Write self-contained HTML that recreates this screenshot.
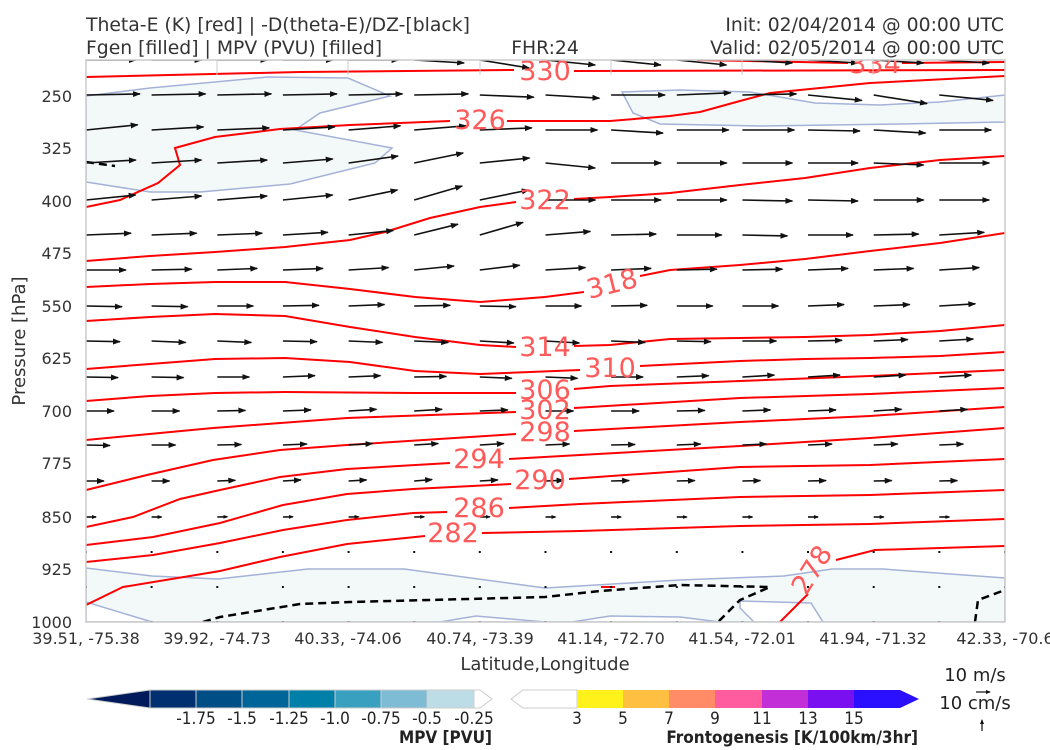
<!DOCTYPE html>
<html><head><meta charset="utf-8"><style>
html,body{margin:0;padding:0;background:#fff;}
svg{display:block;font-family:"DejaVu Sans","Liberation Sans",sans-serif;}
</style></head><body>
<svg id="s" width="1050" height="750" viewBox="0 0 1050 750" xmlns="http://www.w3.org/2000/svg">
<defs>
<marker id="ah" markerWidth="8" markerHeight="6" refX="7" refY="3" orient="auto" markerUnits="userSpaceOnUse"><path d="M0,0 L8,3 L0,6 z" fill="#111"/></marker>
<marker id="as" markerWidth="5" markerHeight="4" refX="4" refY="2" orient="auto" markerUnits="userSpaceOnUse"><path d="M0,0 L5,2 L0,4 z" fill="#111"/></marker>
<clipPath id="cp"><rect x="86" y="60" width="919" height="562"/></clipPath>
</defs>
<g fill="#333" font-size="18.8">
<text x="86" y="31">Theta-E (K) [red] | -D(theta-E)/DZ-[black]</text>
<text x="86" y="54">Fgen [filled] | MPV (PVU) [filled]</text>
<text x="545" y="54" text-anchor="middle">FHR:24</text>
<text x="1004" y="31" text-anchor="end">Init: 02/04/2014 @ 00:00 UTC</text>
<text x="1004" y="54" text-anchor="end">Valid: 02/05/2014 @ 00:00 UTC</text>
</g>
<g clip-path="url(#cp)">
<g fill="#f3f9f9" stroke="#a4b2d8" stroke-width="1.5">
<polygon points="86,96 150,88 268,77 348,78 390,96 320,113 295,130 392,148 375,163 290,184 200,192 150,192 86,182"/>
<polygon points="622,92 680,90 750,92 815,103 880,105 940,102 1005,95 1005,122 900,124 760,126 660,124 633,113"/>
<polygon points="86,568 152,576 218,579 308,569 404,569 545,588 680,580 784,576 832,569 883,569 1005,578 1005,622 86,622"/>
</g>
<g fill="#fff" stroke="#a4b2d8" stroke-width="1.5">
<polygon points="86,602 152,622 86,622"/>
<polygon points="440,622 476,616 545,622"/>
<polygon points="572,622 610,616 680,617 720,622"/>
<polygon points="740,601 811,603 823,622 754,622 740,608"/>
</g>
<g fill="none" stroke="#000" stroke-width="2.5" stroke-dasharray="8,5">
<polyline points="203,622 220,617 300,604 350,602 545,597 600,591 680,585 770,587 740,600 718,622"/>
<polyline points="975,622 978,600 1005,590"/>
<polyline points="86,162 115,166"/>
</g>
<g fill="none" stroke="#ff0000" stroke-width="2">
<polyline points="697,60 848,63"/><polyline points="902,63 1005,62"/>
<polyline points="86,77 300,72 514,70"/><polyline points="574,71 1005,70"/>
<polyline points="86,207 120,200 158,183 180,165 175,148 215,137 280,129 350,125 450,121"/>
<polyline points="507,121 610,121 670,116 700,112 740,101 770,93 870,83 1005,76"/>
<polyline points="86,261 150,256 215,252 285,247 350,240 385,232 430,218 480,207 516,202"/>
<polyline points="574,199 610,197 670,193 740,185 805,178 870,168 940,160 1005,156"/>
<polyline points="86,287 150,284 215,282 285,282 350,289 415,297 480,302 545,297 584,292"/>
<polyline points="640,276 670,270 740,265 805,259 870,251 940,243 1005,233"/>
<polyline points="86,321 150,317 215,314 285,316 350,327 415,337 480,345 516,347"/>
<polyline points="574,346 610,345 670,339 740,338 805,337 870,335 940,331 1005,325"/>
<polyline points="86,369 150,364 215,359 285,358 350,362 415,371 480,374 580,370"/>
<polyline points="640,366 740,361 805,359 870,358 940,356 1005,352"/>
<polyline points="86,401 150,396 215,393 285,392 415,393 516,393"/>
<polyline points="574,389 610,386 740,381 870,376 1005,370"/>
<polyline points="86,440 213,428 347,418 516,412"/>
<polyline points="574,408 740,398 870,394 1005,388"/>
<polyline points="86,490 147,475 213,460 280,450 347,445 516,434"/>
<polyline points="574,431 740,422 870,416 1005,407"/>
<polyline points="86,527 133,517 180,499 220,490 280,477 347,469 450,463"/>
<polyline points="509,459 580,455 740,446 870,438 1005,428"/>
<polyline points="86,545 153,537 220,523 283,505 347,494 413,489 511,484"/>
<polyline points="569,479 740,467 870,465 1005,459"/>
<polyline points="86,562 153,555 220,543 283,530 347,520 413,513 447,512"/>
<polyline points="509,508 580,504 740,497 870,495 1005,490"/>
<polyline points="86,605 123,587 220,571 280,557 347,544 425,536"/>
<polyline points="482,533 580,531 740,526 870,524 1005,519"/>
<polyline points="836,560 875,550 940,548 1005,546"/>
<polyline points="780,622 808,594"/>
<polyline points="601,587 615,587"/>
</g>
<g id="arrows" stroke="#111" stroke-width="1.6"></g>
<g fill="#ff5a5a" font-size="27" text-anchor="middle">
<text x="545" y="80">330</text>
<text x="875" y="73">334</text>
<text x="480" y="129">326</text>
<text x="545" y="209">322</text>
<text x="612" y="293" transform="rotate(-14 612 284)">318</text>
<text x="545" y="356">314</text>
<text x="610" y="377">310</text>
<text x="545" y="399">306</text>
<text x="545" y="419">302</text>
<text x="545" y="441">298</text>
<text x="479" y="468">294</text>
<text x="540" y="489">290</text>
<text x="479" y="517">286</text>
<text x="453" y="542">282</text>
<text x="812" y="579" transform="rotate(-58 812 570)">278</text>
</g>
</g>
<rect x="86" y="60" width="919" height="562" fill="none" stroke="#ccc" stroke-width="1.5"/>
<g stroke="#ccc" stroke-width="1"><line x1="217" y1="60" x2="217" y2="75"/><line x1="348" y1="60" x2="348" y2="75"/><line x1="480" y1="60" x2="480" y2="75"/><line x1="611" y1="60" x2="611" y2="75"/><line x1="742" y1="60" x2="742" y2="75"/><line x1="873" y1="60" x2="873" y2="75"/></g>
<g fill="#333" font-size="16" text-anchor="end">
<text x="72" y="102">250</text><text x="72" y="154">325</text><text x="72" y="207">400</text><text x="72" y="259">475</text><text x="72" y="312">550</text><text x="72" y="364">625</text><text x="72" y="417">700</text><text x="72" y="469">775</text><text x="72" y="523">850</text><text x="72" y="575">925</text><text x="72" y="628">1000</text>
</g>
<g fill="#333" font-size="16" text-anchor="middle">
<text x="86" y="644">39.51, -75.38</text><text x="217" y="644">39.92, -74.73</text><text x="348" y="644">40.33, -74.06</text><text x="480" y="644">40.74, -73.39</text><text x="611" y="644">41.14, -72.70</text><text x="742" y="644">41.54, -72.01</text><text x="873" y="644">41.94, -71.32</text><text x="1005" y="644">42.33, -70.6</text>
<text x="545" y="670" font-size="18">Latitude,Longitude</text>
</g>
<text transform="translate(25 341) rotate(-90)" fill="#333" font-size="18" text-anchor="middle">Pressure [hPa]</text>
<g stroke="#ccc" stroke-width="1">
<polygon points="87,699 150,690 150,708" fill="#001a5c"/>
<rect x="150" y="690" width="46" height="18" fill="#00306f"/>
<rect x="196" y="690" width="46" height="18" fill="#004e86"/>
<rect x="242" y="690" width="47" height="18" fill="#006699"/>
<rect x="289" y="690" width="46" height="18" fill="#0080a8"/>
<rect x="335" y="690" width="46" height="18" fill="#3aa0c0"/>
<rect x="381" y="690" width="46" height="18" fill="#7dbcd4"/>
<rect x="427" y="690" width="47" height="18" fill="#bcdde6"/>
<polygon points="474,690 480,690 492,699 480,708 474,708" fill="#fff"/>
<polygon points="511,699 523,690 577,690 577,708 523,708" fill="#fff"/>
<rect x="577" y="690" width="46" height="18" fill="#fff21a" stroke="none"/>
<rect x="623" y="690" width="46" height="18" fill="#ffbf40" stroke="none"/>
<rect x="669" y="690" width="46" height="18" fill="#ff8c66" stroke="none"/>
<rect x="715" y="690" width="47" height="18" fill="#ff5ca0" stroke="none"/>
<rect x="762" y="690" width="46" height="18" fill="#c22fd6" stroke="none"/>
<rect x="808" y="690" width="46" height="18" fill="#7a10f0" stroke="none"/>
<polygon points="854,690 900,690 919,699 900,708 854,708" fill="#2a10ff" stroke="none"/>
</g>
<g fill="#222" font-size="17" font-family="'DejaVu Sans Condensed','Liberation Sans Narrow',sans-serif" text-anchor="middle">
<text x="196" y="724">-1.75</text><text x="242" y="724">-1.5</text><text x="289" y="724">-1.25</text><text x="335" y="724">-1.0</text><text x="381" y="724">-0.75</text><text x="427" y="724">-0.5</text><text x="474" y="724">-0.25</text>
<text x="577" y="724">3</text><text x="623" y="724">5</text><text x="669" y="724">7</text><text x="715" y="724">9</text><text x="762" y="724">11</text><text x="808" y="724">13</text><text x="854" y="724">15</text>
<text x="492" y="743" text-anchor="end" font-weight="bold">MPV [PVU]</text>
<text x="918" y="743" text-anchor="end" font-weight="bold">Frontogenesis [K/100km/3hr]</text>
</g>
<g fill="#222" font-size="18" text-anchor="middle">
<text x="975" y="681">10 m/s</text>
<text x="975" y="709">10 cm/s</text>
</g>
<line x1="976" y1="692" x2="990" y2="692" stroke="#111" stroke-width="1.2" marker-end="url(#as)"/>
<line x1="982" y1="731" x2="982" y2="720" stroke="#111" stroke-width="1.2" marker-end="url(#as)"/>
</svg>
<script>
(function(){
var rows=[
[60,50,[0,0,0,0,0,3,8,5,5,5,3,3,3,3,0]],
[95,54,[-1,-1,-1,-1,-1,-1,2,3,0,-2,-1,5,8,5,-1]],
[130,52,[-5,-3,-2,-3,-4,-4,-2,0,3,0,0,1,3,0,0]],
[163,50,[-3,-3,-3,-4,-7,-10,-5,5,0,0,0,0,2,0,0]],
[200,50,[-5,-4,-4,-5,-10,-14,-10,0,0,0,1,1,0,0,-2]],
[235,45,[-2,-2,-2,-3,-5,-12,-14,-4,-1,0,1,0,-1,-3,-3]],
[270,40,[0,-1,-2,-2,-3,-5,-6,-3,-2,-1,-1,-2,-2,-3,-4]],
[306,36,[1,1,0,-1,-2,-1,1,0,-1,0,0,-2,-2,-3,-4]],
[341,34,[1,2,2,1,2,2,3,3,2,1,0,-1,-2,-3,-4]],
[377,32,[1,1,0,-2,-2,-1,2,2,0,-2,-3,-3,-3,-3,-3]],
[411,28,[0,0,-1,-2,-3,-3,-2,0,0,-1,-2,-2,-3,-3,-3]],
[445,24,[1,0,-1,-2,-3,-3,-3,-2,-1,-2,-2,-2,-2,-2,-2]],
[481,18,[0,0,-2,-3,-3,-4,-3,-2,-1,-1,-1,-1,-1,-1,-1]],
[517,10,[0,0,-1,-1,-1,-1,-1,0,0,0,0,0,0,0,0]],
[552,3,[0,0,0,0,0,0,0,0,0,0,0,0,0,0,0]],
[587,2,[0,0,0,0,0,0,0,0,0,0,0,0,0,0,0]],
[622,2,[0,0,0,0,0,0,0,0,0,0,0,0,0,0,0]]];
var g=document.getElementById('arrows'),h='';
rows.forEach(function(r){for(var i=0;i<15;i++){var x=86+i*65.64,y=r[0],L=r[1],dy=r[2][i]*(L/50);var dx=Math.sqrt(Math.max(L*L-dy*dy,1));
if(L<6){h+='<rect x="'+(x-1).toFixed(1)+'" y="'+(y-1)+'" width="2" height="2" fill="#111" stroke="none"/>';continue;}
var m=L<15?'as':'ah';
h+='<line x1="'+x.toFixed(1)+'" y1="'+y+'" x2="'+(x+dx).toFixed(1)+'" y2="'+(y+dy).toFixed(1)+'" marker-end="url(#'+m+')"/>';}});
g.innerHTML=h;
})();
</script>
</body></html>
